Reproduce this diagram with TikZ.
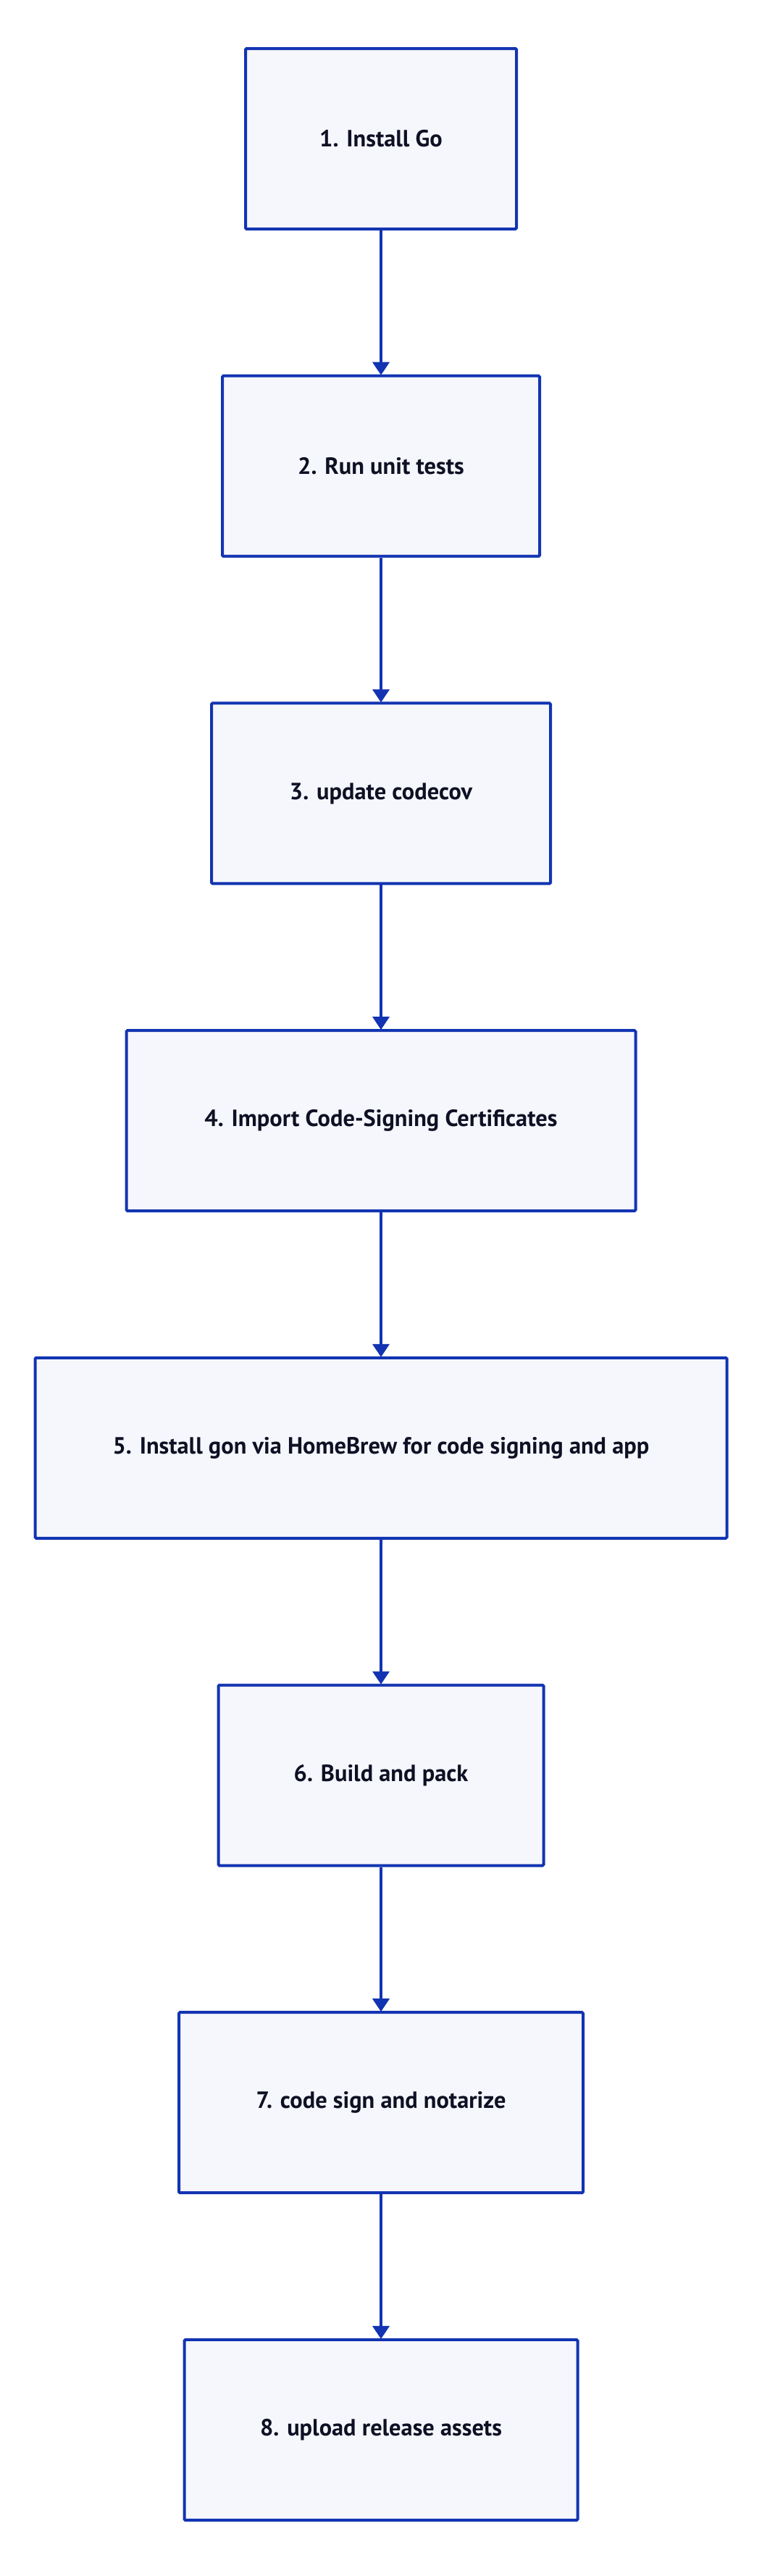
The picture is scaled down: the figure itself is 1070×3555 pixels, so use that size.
\documentclass[tikz,border=0pt]{standalone}
\usepackage{fontspec}
\setmainfont{PT Sans}
\usetikzlibrary{arrows.meta,positioning}
\definecolor{edgeblue}{RGB}{18,52,178}
\definecolor{boxfill}{RGB}{246,247,252}
\definecolor{txt}{RGB}{14,16,36}
\tikzset{
  stepbox/.style={draw=edgeblue, fill=boxfill, line width=4pt, rounded corners=1.5pt,
    minimum height=249pt, inner sep=0pt, text=txt,
    font=\fontsize{32.4}{38}\selectfont\bfseries},
  flow/.style={draw=edgeblue, line width=3.6pt, -{Triangle[width=23pt,length=18pt]}, shorten >=-1pt}
}
\begin{document}
\begin{tikzpicture}[x=1pt,y=-1pt]
\path[use as bounding box, fill=white] (0,0) rectangle (1070,3555);
\node[stepbox, minimum width=374pt] (s1) at (526,191.5) {1. Install Go};
\node[stepbox, minimum width=438pt] (s2) at (526,643.2) {2. Run unit tests};
\node[stepbox, minimum width=468pt] (s3) at (526,1094.9) {3. update codecov};
\node[stepbox, minimum width=703pt] (s4) at (526,1546.6) {4. Import Code-Signing Certificates};
\node[stepbox, minimum width=955pt] (s5) at (526,1998.3) {5. Install gon via HomeBrew for code signing and app};
\node[stepbox, minimum width=449pt] (s6) at (526,2450) {6. Build and pack};
\node[stepbox, minimum width=558pt] (s7) at (526,2901.7) {7. code sign and notarize};
\node[stepbox, minimum width=543pt] (s8) at (526,3353.4) {8. upload release assets};
\draw[flow] (s1) -- (s2);
\draw[flow] (s2) -- (s3);
\draw[flow] (s3) -- (s4);
\draw[flow] (s4) -- (s5);
\draw[flow] (s5) -- (s6);
\draw[flow] (s6) -- (s7);
\draw[flow] (s7) -- (s8);
\end{tikzpicture}
\end{document}
